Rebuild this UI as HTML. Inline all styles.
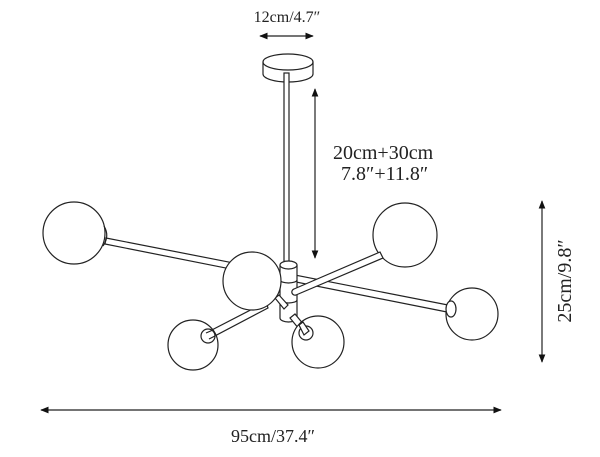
<!DOCTYPE html>
<html><head><style>
html,body{margin:0;padding:0;background:#fff;width:600px;height:457px;overflow:hidden}
text{font-family:"Liberation Serif",serif;fill:#222}
</style></head><body>
<svg width="600" height="457" viewBox="0 0 600 457" xmlns="http://www.w3.org/2000/svg">
<defs>
<marker id="a" viewBox="0 0 10 10" refX="9" refY="5" markerWidth="7" markerHeight="7" orient="auto-start-reverse"><path d="M0,1 L10,5 L0,9 z" fill="#111"/></marker>
</defs>
<g stroke="#222" stroke-width="1.2" fill="#fff">
<line x1="260" y1="36" x2="313" y2="36" marker-start="url(#a)" marker-end="url(#a)" fill="none"/>
<line x1="315" y1="89" x2="315" y2="258" marker-start="url(#a)" marker-end="url(#a)" fill="none"/>
<line x1="542" y1="201" x2="542" y2="362" marker-start="url(#a)" marker-end="url(#a)" fill="none"/>
<line x1="41" y1="410" x2="501" y2="410" marker-start="url(#a)" marker-end="url(#a)" fill="none"/>
<!-- canopy -->
<path d="M263,62 L263,74 A25,8 0 0 0 313,74 L313,62"/>
<ellipse cx="288" cy="62" rx="25" ry="8"/>
<rect x="284" y="73" width="5" height="192"/>
<!-- long arm -->
<polygon points="106,238 448,305 447,312 105,244"/>
<circle cx="74" cy="233" r="31"/>
<path d="M104,226 Q110,236 103,246" fill="none"/>
<!-- hub -->
<path d="M280,265 L280,318 A8.5,4 0 0 0 297,318 L297,265"/>
<ellipse cx="288.5" cy="265" rx="8.5" ry="4"/>
<path d="M280,280 A8.5,3 0 0 0 297,280 M280,300 A8.5,3 0 0 0 297,300" fill="none"/>
<!-- stub hub to center ball -->
<polygon points="275,298 279,295 288,305 284,309"/>
<!-- lower-left arm -->
<polygon points="206,333 266,302 268,308 209,339"/>
<!-- lower-right stub -->
<polygon points="290,318 295,314 309,331 304,335"/>
<!-- right ball -->
<circle cx="472" cy="314" r="26"/>
<ellipse cx="451" cy="309" rx="5" ry="8"/>
<circle cx="405" cy="235" r="32"/>
<!-- center ball -->
<circle cx="252" cy="281" r="29"/>
<!-- upper-right arm to hub (front) -->
<path d="M380,252 L294,289 A3,3 0 0 0 296,295 L383,258 Z"/>
<!-- small left ball -->
<circle cx="193" cy="345" r="25"/>
<circle cx="208" cy="336" r="7"/>
<line x1="206" y1="333" x2="213" y2="330"/>
<line x1="209" y1="339" x2="215" y2="336"/>
<!-- small right ball -->
<circle cx="318" cy="342" r="26"/>
<circle cx="306" cy="333" r="7"/>
<polygon points="299,325 303,322 309,331 304,335"/>
</g>
<text x="287" y="22" font-size="16" text-anchor="middle">12cm/4.7″</text>
<text x="333" y="159" font-size="20">20cm+30cm</text>
<text x="341" y="180" font-size="20">7.8″+11.8″</text>
<text x="273" y="442" font-size="18" text-anchor="middle">95cm/37.4″</text>
<text transform="translate(571,281) rotate(-90)" font-size="20" text-anchor="middle">25cm/9.8″</text>
</svg>
</body></html>
